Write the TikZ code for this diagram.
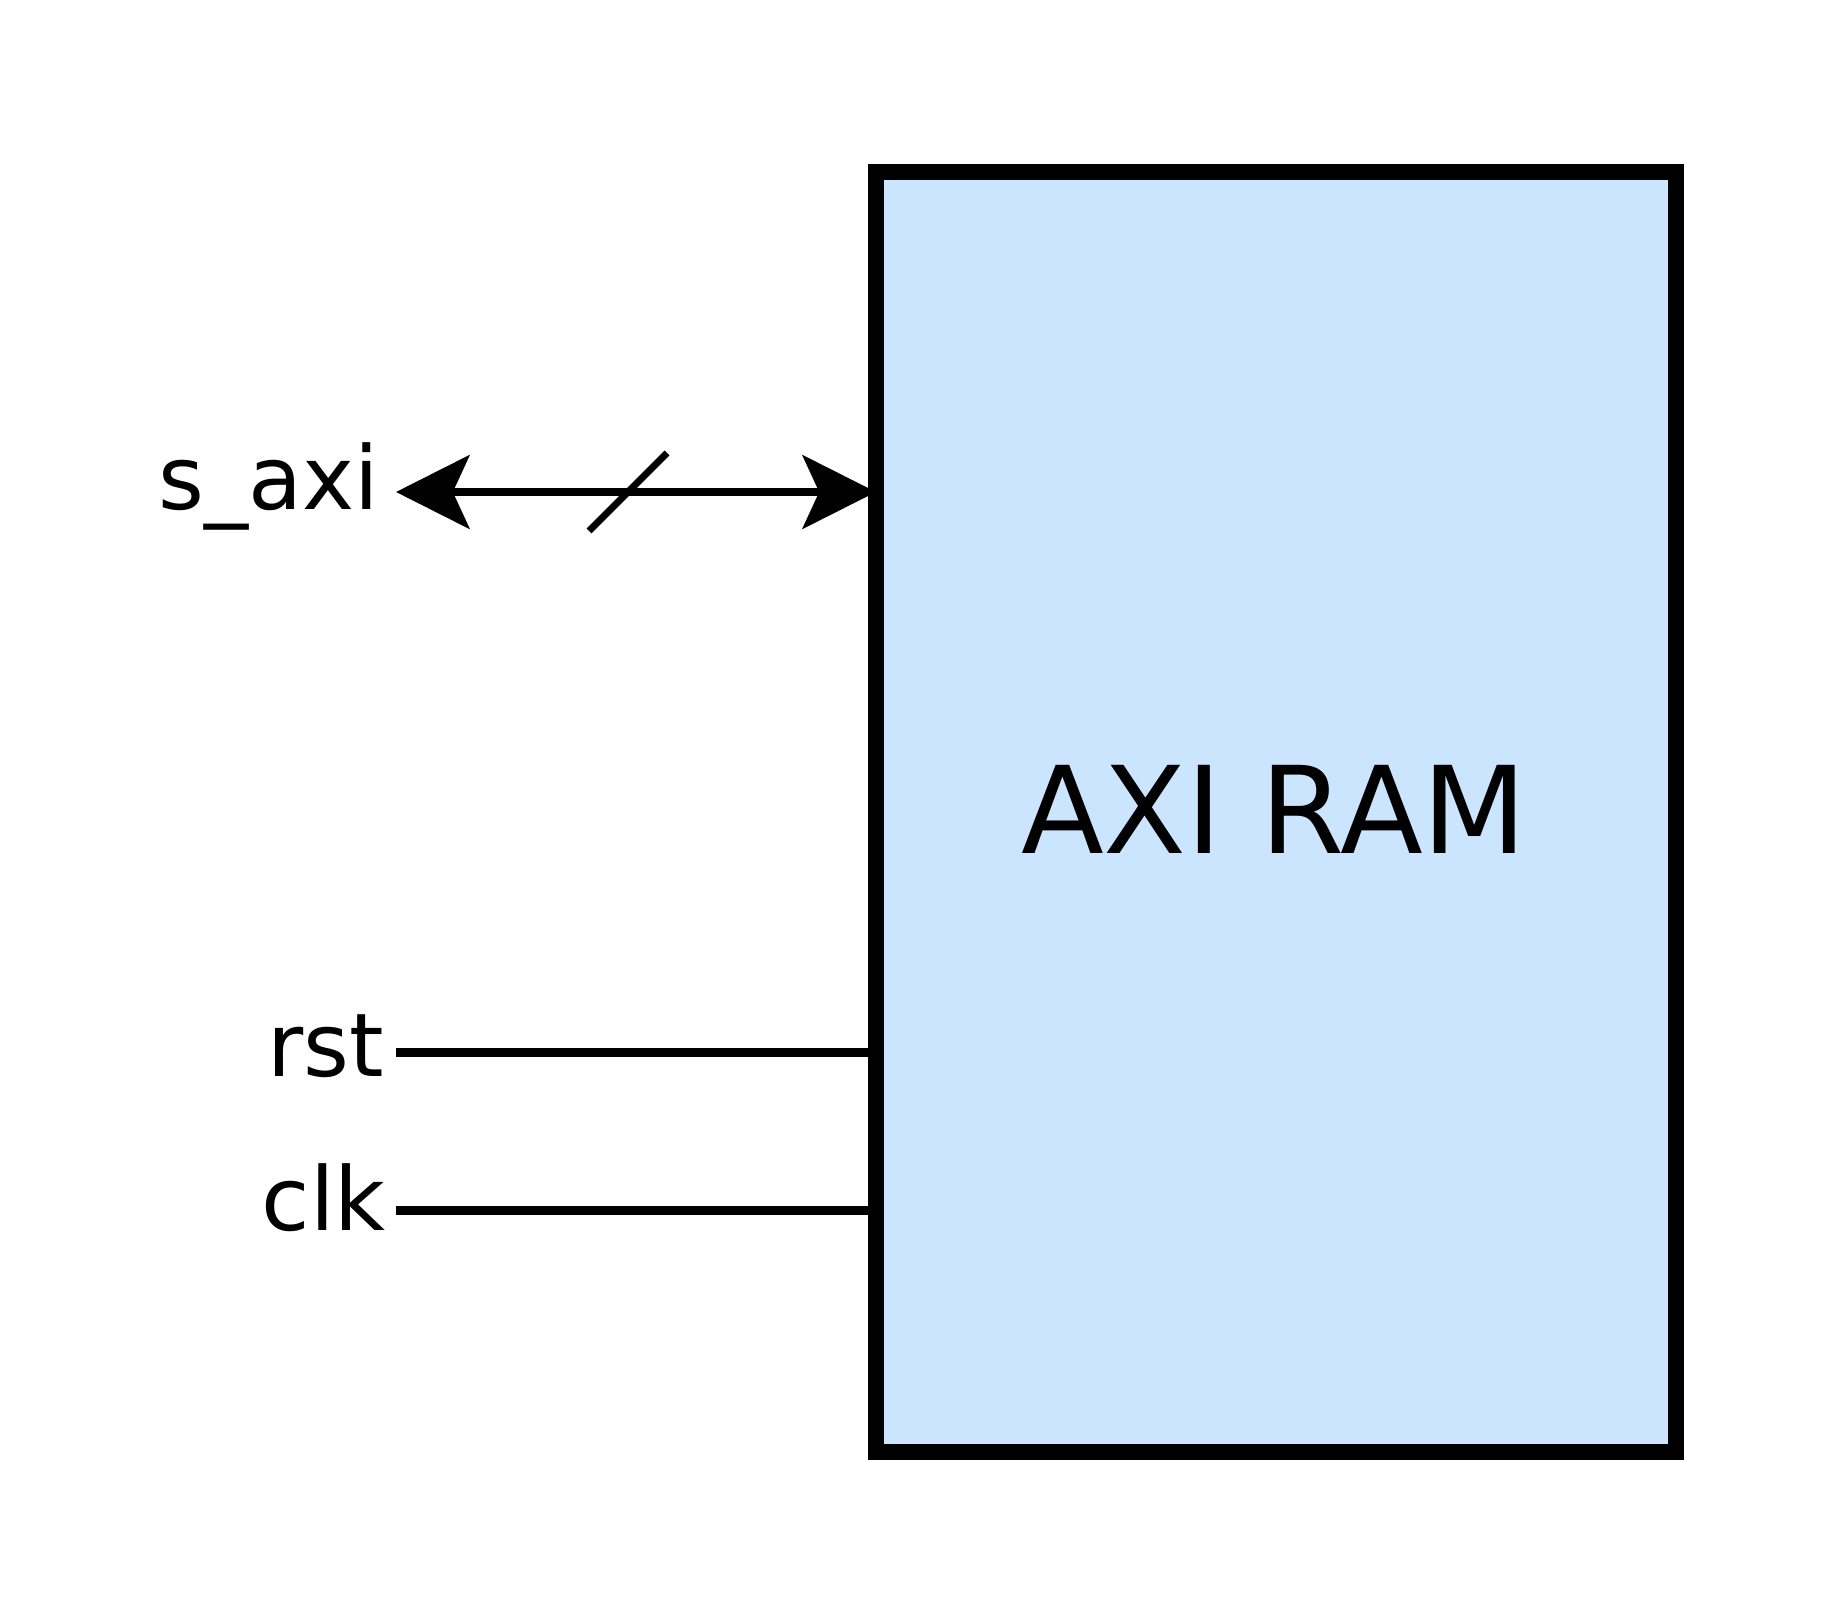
\documentclass[tikz,border=0pt]{standalone}
\usepackage{fontspec}
\setmainfont{DejaVu Sans}
\usetikzlibrary{arrows.meta, positioning, calc}
\definecolor{ramblue}{HTML}{CCE5FF}

\begin{document}
\begin{tikzpicture}[
  x=0.5pt, y=-0.5pt,
  blk/.style={draw=black, fill=ramblue, line width=8pt, minimum width=400pt, minimum height=640pt, inner sep=0pt, outer sep=0pt, font=\fontsize{60.5}{72}\selectfont},
  lbl/.style={anchor=base east, inner sep=0pt, font=\fontsize{44}{53}\selectfont},
  bus/.style={{Stealth[length=36.7pt, width=36.7pt, inset=8.3pt]}-{Stealth[length=36.7pt, width=36.7pt, inset=8.3pt]}, line width=4.25pt},
  sig/.style={line width=4.5pt},
  slash/.style={line width=3.5pt}
]
\useasboundingbox (0,0) rectangle (1848,1616);
\node[blk] (ram) at (1276,812) {\hspace*{-1.8pt}\raisebox{2.4pt}{AXI RAM}};
\coordinate (saxi) at (396,492);
\coordinate (rst) at (396,1052);
\coordinate (clk) at (396,1210);
\node[lbl] (saxilbl) at (379,509) {s\_axi};
\node[lbl] (rstlbl) at (384,1076) {rst};
\node[lbl] (clklbl) at (386,1230) {clk};
\draw[bus] (saxi) -- (saxi -| ram.west);
\coordinate (bw) at (628,492);
\draw[slash] ([shift={(-39,39)}]bw) -- ([shift={(39,-39)}]bw);
\draw[sig] (rst) -- (rst -| ram.west);
\draw[sig] (clk) -- (clk -| ram.west);
\end{tikzpicture}
\end{document}
